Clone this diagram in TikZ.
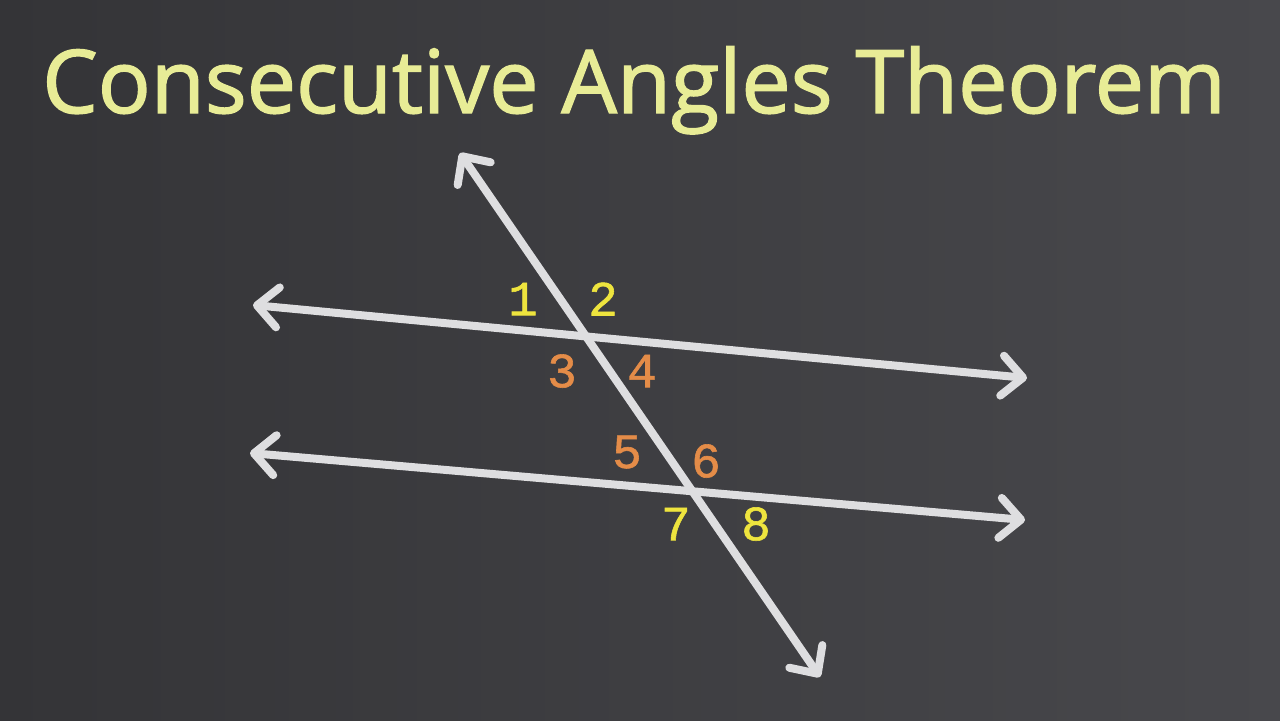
\documentclass[tikz,border=0pt]{standalone}
\usepackage{fontspec}
\setmainfont{Open Sans}
\newfontfamily\titlefont[FakeBold=1.6]{Open Sans}
\newfontfamily\digitfont[FakeBold=1.2]{Liberation Mono}
\usetikzlibrary{arrows.meta,positioning}
\definecolor{board}{RGB}{52,52,55}
\definecolor{boardlight}{RGB}{72,72,76}
\definecolor{chalk}{RGB}{222,222,224}
\definecolor{titleyellow}{RGB}{232,236,150}
\definecolor{numyellow}{RGB}{238,228,62}
\definecolor{numorange}{RGB}{228,140,72}
\tikzset{
  ray/.style={draw=chalk,line width=0.08cm,line cap=round,
    {Straight Barb[length=0.21cm,width=0.4cm,round]}-{Straight Barb[length=0.21cm,width=0.4cm,round]}},
  anglenum/.style={font=\digitfont\fontsize{14}{16}\selectfont,inner sep=0pt},
  odd/.style={anglenum,text=numyellow},
  even/.style={anglenum,text=numorange}
}
\begin{document}
\begin{tikzpicture}[x=0.01cm,y=-0.01cm,node distance=0.8cm]
\useasboundingbox (0,0) rectangle (1280,720);
\shade[left color=board,right color=boardlight] (0,0) rectangle (1280,720);
\node[anchor=base,text=titleyellow,font=\titlefont\fontsize{25}{29}\selectfont] (title) at (634,113) {Consecutive Angles Theorem};
% the three lines
\coordinate (topL) at (253,305);
\coordinate (topR) at (1027,378);
\coordinate (botL) at (250,453);
\coordinate (botR) at (1025,520);
\coordinate (trU) at (460,153);
\coordinate (trD) at (820,677);
\draw[ray] (topL) -- (topR);
\draw[ray] (botL) -- (botR);
\draw[ray] (trU) -- (trD);
% angle numbers
\node[odd] (n1) at (523,299) {1};
\node[odd] (n2) [right of=n1] {2};
\node[even] (n3) at (562,371) {3};
\node[even] (n4) [right of=n3] {4};
\node[even] (n5) at (627,452) {5};
\node[even] (n6) at (706,461) {6};
\node[odd] (n7) at (676,524) {7};
\node[odd] (n8) [right of=n7] {8};
\end{tikzpicture}
\end{document}
